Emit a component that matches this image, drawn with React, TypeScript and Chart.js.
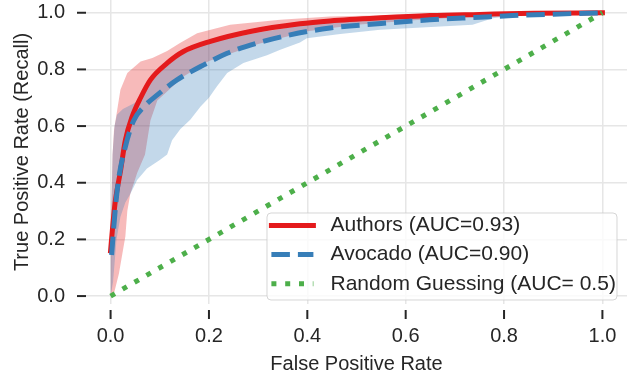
import React, { useEffect, useRef } from "react";
import { Chart, registerables } from "chart.js";

Chart.register(...registerables);

const FONT = "'Liberation Sans', Arial, sans-serif";
const TEXT = "#262626";
const GRID = "#e6e6e6";
const RED = "#e41a1c";
const BLUE = "#377eb8";
const GREEN = "#4daf4a";

const tickValues = [0, 0.2, 0.4, 0.6, 0.8, 1.0];
const tickLabels = ["0.0", "0.2", "0.4", "0.6", "0.8", "1.0"];
const xTitle = "False Positive Rate";
const yTitle = "True Positive Rate (Recall)";
const seriesNames = ["Authors (AUC=0.93)", "Avocado (AUC=0.90)", "Random Guessing (AUC= 0.5)"];

// Authors mean ROC
const authorsFpr = [0, 0.005, 0.01, 0.02, 0.03, 0.044, 0.061, 0.081, 0.115, 0.148, 0.203, 0.284, 0.385, 0.446, 0.55, 0.65, 0.75, 0.86, 1.0];
const authorsTpr = [0.16, 0.26, 0.34, 0.44, 0.55, 0.634, 0.70, 0.763, 0.822, 0.863, 0.899, 0.934, 0.961, 0.971, 0.982, 0.99, 0.994, 0.998, 1.0];
// Authors band
const authorsUpFpr = [0, 0.004, 0.007, 0.02, 0.034, 0.061, 0.085, 0.115, 0.142, 0.176, 0.243, 0.345, 0.446, 0.6, 0.8, 1.0];
const authorsUpTpr = [0.2, 0.5, 0.587, 0.728, 0.787, 0.828, 0.84, 0.865, 0.894, 0.928, 0.958, 0.975, 0.987, 0.993, 0.998, 1.0];
const authorsLoFpr = [0, 0.007, 0.017, 0.03, 0.034, 0.04, 0.054, 0.07, 0.081, 0.095, 0.148, 0.2, 0.3, 0.4, 0.5, 0.65, 0.8, 1.0];
const authorsLoTpr = [0.0, 0.01, 0.08, 0.21, 0.30, 0.36, 0.434, 0.5, 0.62, 0.69, 0.775, 0.83, 0.89, 0.935, 0.958, 0.978, 0.99, 1.0];

// Avocado mean ROC
const avocadoFpr = [0.002, 0.01, 0.017, 0.03, 0.047, 0.068, 0.095, 0.135, 0.183, 0.237, 0.298, 0.365, 0.446, 0.55, 0.649, 0.75, 0.817, 0.9, 1.0];
const avocadoTpr = [0.145, 0.316, 0.42, 0.527, 0.62, 0.669, 0.71, 0.763, 0.81, 0.857, 0.893, 0.922, 0.946, 0.962, 0.975, 0.984, 0.99, 0.995, 1.0];
// Avocado band
const avocadoUpFpr = [0, 0.004, 0.008, 0.013, 0.025, 0.047, 0.065, 0.08, 0.115, 0.148, 0.2, 0.3, 0.4, 0.5, 0.65, 0.8, 1.0];
const avocadoUpTpr = [0.15, 0.5, 0.6, 0.64, 0.66, 0.68, 0.7, 0.75, 0.815, 0.855, 0.895, 0.93, 0.958, 0.972, 0.985, 0.993, 1.0];
const avocadoLoFpr = [0, 0.005, 0.012, 0.02, 0.03, 0.04, 0.054, 0.074, 0.1, 0.115, 0.125, 0.142, 0.162, 0.183, 0.2, 0.216, 0.237, 0.27, 0.318, 0.345, 0.385, 0.399, 0.467, 0.548, 0.736, 0.777, 0.817, 0.9, 1.0];
const avocadoLoTpr = [0, 0.05, 0.2, 0.28, 0.33, 0.36, 0.41, 0.45, 0.48, 0.5, 0.55, 0.59, 0.622, 0.669, 0.7, 0.74, 0.787, 0.823, 0.85, 0.869, 0.895, 0.91, 0.925, 0.94, 0.958, 0.981, 0.99, 0.996, 1.0];

// Random guessing
const randomFpr = [0, 1];
const randomTpr = [0, 1];

const toPoints = (xs: number[], ys: number[]) => xs.map((x, i) => ({ x, y: ys[i] }));

const decorPlugin = {
  id: "decor",
  afterDraw(chart: any) {
    const ctx = chart.ctx as CanvasRenderingContext2D;
    const area = chart.chartArea;
    const xs = chart.scales.x;
    const ys = chart.scales.y;
    ctx.save();
    // tick marks
    ctx.strokeStyle = TEXT;
    ctx.lineWidth = 2;
    ctx.setLineDash([]);
    ctx.lineCap = "butt";
    for (const v of tickValues) {
      const px = xs.getPixelForValue(v);
      ctx.beginPath();
      ctx.moveTo(px, area.bottom + 6);
      ctx.lineTo(px, area.bottom + 15);
      ctx.stroke();
      const py = ys.getPixelForValue(v);
      ctx.beginPath();
      ctx.moveTo(area.left - 9, py);
      ctx.lineTo(area.left, py);
      ctx.stroke();
    }
    // legend
    const bw = 350, bh = 87, r = 4;
    const bx = area.right - 10 - bw;
    const by = area.bottom - 4 - bh;
    ctx.beginPath();
    ctx.moveTo(bx + r, by);
    ctx.lineTo(bx + bw - r, by);
    ctx.arcTo(bx + bw, by, bx + bw, by + r, r);
    ctx.lineTo(bx + bw, by + bh - r);
    ctx.arcTo(bx + bw, by + bh, bx + bw - r, by + bh, r);
    ctx.lineTo(bx + r, by + bh);
    ctx.arcTo(bx, by + bh, bx, by + bh - r, r);
    ctx.lineTo(bx, by + r);
    ctx.arcTo(bx, by, bx + r, by, r);
    ctx.closePath();
    ctx.fillStyle = "rgba(255,255,255,0.8)";
    ctx.fill();
    ctx.strokeStyle = "rgba(204,204,204,0.8)";
    ctx.lineWidth = 1;
    ctx.stroke();

    const lineDs = [0, 1, 2].map((i) => chart.data.datasets[i]);
    lineDs.forEach((ds: any, i: number) => {
      const cy = by + 12.4 + i * 29.2;
      ctx.beginPath();
      ctx.strokeStyle = ds.borderColor;
      ctx.lineWidth = ds.borderWidth;
      ctx.lineCap = ds.borderCapStyle || "butt";
      ctx.setLineDash(ds.borderDash || []);
      ctx.lineDashOffset = 0;
      ctx.moveTo(bx + 4.4, cy);
      ctx.lineTo(bx + 46.4, cy);
      ctx.stroke();
      ctx.setLineDash([]);
      ctx.fillStyle = TEXT;
      ctx.font = `21px ${FONT}`;
      ctx.textAlign = "left";
      ctx.textBaseline = "middle";
      ctx.fillText(ds.label, bx + 63.5, cy);
    });
    ctx.restore();
  },
};

export default function App() {
  const ref = useRef<HTMLCanvasElement | null>(null);

  useEffect(() => {
    if (!ref.current) return;
    const band = { borderWidth: 0, borderColor: "rgba(0,0,0,0)", pointRadius: 0, tension: 0 };
    const chart = new Chart(ref.current, {
      type: "line",
      data: {
        datasets: [
          {
            label: seriesNames[0],
            data: toPoints(authorsFpr, authorsTpr),
            borderColor: RED,
            borderWidth: 5,
            borderCapStyle: "square",
            cubicInterpolationMode: "monotone",
            pointRadius: 0,
            fill: false,
            order: 2,
          },
          {
            label: seriesNames[1],
            data: toPoints(avocadoFpr, avocadoTpr),
            borderColor: BLUE,
            borderWidth: 5,
            borderDash: [18.5, 8],
            borderCapStyle: "butt",
            cubicInterpolationMode: "monotone",
            pointRadius: 0,
            fill: false,
            order: 1,
          },
          {
            label: seriesNames[2],
            data: toPoints(randomFpr, randomTpr),
            borderColor: GREEN,
            borderWidth: 5,
            borderDash: [5, 8.8],
            borderCapStyle: "butt",
            pointRadius: 0,
            fill: false,
            order: 0,
          },
          {
            label: "authors-upper",
            data: toPoints(authorsUpFpr, authorsUpTpr),
            ...band,
            backgroundColor: "rgba(228,26,28,0.3)",
            fill: 4,
            order: 6,
          },
          {
            label: "authors-lower",
            data: toPoints(authorsLoFpr, authorsLoTpr),
            ...band,
            fill: false,
            order: 5,
          },
          {
            label: "avocado-upper",
            data: toPoints(avocadoUpFpr, avocadoUpTpr),
            ...band,
            backgroundColor: "rgba(55,126,184,0.3)",
            fill: 6,
            order: 4,
          },
          {
            label: "avocado-lower",
            data: toPoints(avocadoLoFpr, avocadoLoTpr),
            ...band,
            fill: false,
            order: 3,
          },
        ] as any,
      },
      options: {
        animation: false,
        responsive: false,
        events: [],
        layout: { padding: 0 },
        plugins: { legend: { display: false }, tooltip: { enabled: false } },
        scales: {
          x: {
            type: "linear",
            min: -0.05,
            max: 1.05,
            afterBuildTicks: (s: any) => {
              s.ticks = tickValues.map((v) => ({ value: v }));
            },
            afterFit: (s: any) => {
              s.height = 72;
              s.paddingLeft = 0;
              s.paddingRight = 0;
              s.paddingTop = 0;
              s.paddingBottom = 0;
            },
            grid: { color: GRID, lineWidth: 1.5, drawTicks: false },
            border: { display: false },
            ticks: {
              padding: 20,
              color: TEXT,
              font: { family: FONT, size: 20 },
              maxRotation: 0,
              autoSkip: false,
              callback: (_v: any, i: number) => tickLabels[i],
            },
            title: {
              display: true,
              text: xTitle,
              color: TEXT,
              font: { family: FONT, size: 20 },
              padding: { top: 0, bottom: 0 },
            },
          },
          y: {
            type: "linear",
            min: -0.028,
            max: 1.045,
            afterBuildTicks: (s: any) => {
              s.ticks = tickValues.map((v) => ({ value: v }));
            },
            afterFit: (s: any) => {
              s.width = 86;
              s.paddingLeft = 0;
              s.paddingRight = 0;
              s.paddingTop = 0;
              s.paddingBottom = 0;
            },
            grid: { color: GRID, lineWidth: 1.5, drawTicks: false },
            border: { display: false },
            ticks: {
              padding: 21,
              color: TEXT,
              font: { family: FONT, size: 20 },
              autoSkip: false,
              callback: (_v: any, i: number) => tickLabels[i],
            },
            title: {
              display: true,
              text: yTitle,
              color: TEXT,
              font: { family: FONT, size: 20 },
              padding: { top: 10, bottom: 0 },
            },
          },
        },
      } as any,
      plugins: [decorPlugin],
    });
    return () => chart.destroy();
  }, []);

  return (
    <div style={{ position: "absolute", left: 0, top: 0, width: 627, height: 376, background: "#fff" }}>
      <canvas ref={ref} width={627} height={376} style={{ display: "block" }} />
    </div>
  );
}
